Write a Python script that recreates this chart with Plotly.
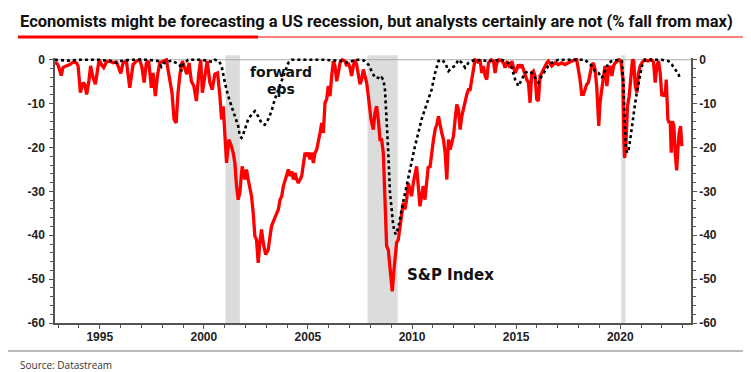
import plotly.graph_objects as go

# ---------------- data ----------------
sp_year = [1992.85, 1992.99, 1993.15, 1993.23, 1993.39, 1993.56, 1993.72, 1993.88, 1993.96, 1994.07,
           1994.2, 1994.28, 1994.37, 1994.47, 1994.56, 1994.68, 1994.79, 1994.89, 1994.97, 1995.08,
           1995.19, 1995.32, 1995.48, 1995.64, 1995.8, 1995.91, 1996.01, 1996.12, 1996.28, 1996.44,
           1996.52, 1996.6, 1996.76, 1996.92, 1997.03, 1997.13, 1997.24, 1997.35, 1997.48, 1997.56,
           1997.67, 1997.77, 1997.88, 1998.04, 1998.2, 1998.36, 1998.47, 1998.57, 1998.67, 1998.76,
           1998.86, 1998.97, 1999.08, 1999.18, 1999.29, 1999.4, 1999.52, 1999.64, 1999.76, 1999.85,
           1999.93, 2000.05, 2000.16,
           2000.29, 2000.40, 2000.53, 2000.66, 2000.77, 2000.85, 2000.93, 2001.01, 2001.09, 2001.20,
           2001.30, 2001.41, 2001.49, 2001.57, 2001.65, 2001.73, 2001.84, 2001.97, 2002.05, 2002.13,
           2002.21, 2002.29, 2002.37, 2002.45, 2002.53, 2002.61, 2002.69, 2002.77, 2002.85, 2002.97,
           2003.09, 2003.17, 2003.25, 2003.38, 2003.50, 2003.58, 2003.66, 2003.74, 2003.82, 2003.90,
           2003.98, 2004.06, 2004.14, 2004.22, 2004.30, 2004.38, 2004.46, 2004.54, 2004.70, 2004.78,
           2004.86, 2004.94, 2005.02, 2005.10, 2005.18, 2005.26, 2005.34, 2005.42, 2005.50, 2005.58,
           2005.66, 2005.74, 2005.82, 2005.90, 2005.98, 2006.06, 2006.14, 2006.22, 2006.30, 2006.38,
           2006.46, 2006.54, 2006.65, 2006.78, 2006.86, 2006.94, 2007.02, 2007.10, 2007.18, 2007.26,
           2007.34, 2007.42, 2007.50, 2007.58, 2007.66, 2007.74, 2007.82,
           2007.90, 2008.03, 2008.14, 2008.22, 2008.30, 2008.38, 2008.46, 2008.54, 2008.62, 2008.70,
           2008.78, 2008.86, 2008.94, 2009.05, 2009.15, 2009.26, 2009.34, 2009.42, 2009.50, 2009.58,
           2009.66, 2009.74, 2009.82, 2009.90, 2009.98, 2010.06, 2010.14, 2010.22, 2010.30, 2010.38,
           2010.46, 2010.54, 2010.62, 2010.70, 2010.78, 2010.86, 2010.94, 2011.03, 2011.11, 2011.19,
           2011.27, 2011.35, 2011.43, 2011.51, 2011.59, 2011.67, 2011.75, 2011.83, 2011.91, 2011.99,
           2012.07, 2012.15, 2012.23, 2012.31, 2012.39, 2012.47, 2012.55, 2012.63, 2012.71, 2012.79,
           2012.87, 2012.95, 2013.03, 2013.16, 2013.27, 2013.35, 2013.43, 2013.51, 2013.59, 2013.67,
           2013.80, 2013.91, 2013.99, 2014.07, 2014.18, 2014.31, 2014.39, 2014.47, 2014.55, 2014.63,
           2014.71, 2014.79, 2014.87, 2014.95, 2015.03, 2015.11, 2015.19, 2015.27, 2015.35, 2015.43,
           2015.51, 2015.59,
           2015.67, 2015.75, 2015.83, 2015.91, 2015.99, 2016.07, 2016.15, 2016.23, 2016.31, 2016.39,
           2016.47, 2016.55, 2016.71, 2016.87, 2017.03, 2017.19, 2017.35, 2017.51, 2017.67, 2017.83,
           2017.91, 2017.99, 2018.07, 2018.15, 2018.23, 2018.31, 2018.39, 2018.47, 2018.55, 2018.63,
           2018.71, 2018.79, 2018.87, 2018.92, 2018.97, 2019.03, 2019.11, 2019.19, 2019.27, 2019.36,
           2019.44, 2019.52, 2019.60, 2019.68, 2019.76, 2019.84, 2019.95, 2020.04, 2020.13, 2020.17,
           2020.21, 2020.27, 2020.35, 2020.43, 2020.51, 2020.59, 2020.65, 2020.72, 2020.80, 2020.88,
           2020.96, 2021.04, 2021.17, 2021.33, 2021.49, 2021.60, 2021.68, 2021.76, 2021.84, 2021.92,
           2022.00, 2022.08, 2022.16, 2022.21, 2022.29, 2022.35, 2022.40, 2022.45, 2022.51, 2022.58,
           2022.64, 2022.71, 2022.77, 2022.83, 2022.90, 2022.96]
sp_fall = [-0.5, -1.1, -3.6, -1.8, -1.4, -1.1, -0.5, -0.7, -1.4, -7.5,
           -5.2, -5.6, -7.9, -5.2, -1.4, -4.1, -5.6, -3.0, 0.0, -1.1,
           -1.8, -0.5, -0.3, -0.7, -0.5, -1.8, -3.1, -0.7, -0.3, -6.4,
           -3.7, -1.1, -0.3, 0.0, -1.8, -5.2, -0.7, -0.3, -6.4, -3.0,
           -8.3, -3.7, -0.7, -0.3, 0.0, -4.5, -7.5, -13.6, -14.4, -7.5,
           -3.0, -0.3, -1.8, -3.3, -0.7, -4.9, -6.0, -9.4, -3.0, 0.0,
           -7.5, -3.0, -0.3,
           -5.2, -6.8, -3.3, -3.0, -8.3, -13.6, -10.6, -15.9, -23.5, -18.2,
           -19.3, -21.2, -23.5, -28.8, -31.9, -30.3, -24.3, -27.3, -25.0, -27.3,
           -29.6, -31.1, -34.9, -40.2, -41.0, -46.3, -41.7, -38.7, -41.7, -44.4,
           -43.3, -41.0, -37.9, -36.4, -34.9, -34.1, -31.9, -31.1, -28.8, -27.3,
           -25.8, -25.0, -26.5, -25.4, -27.3, -25.8, -27.3, -28.1, -26.5, -24.3,
           -21.2, -22.0, -21.2, -22.7, -21.2, -23.5, -21.2, -20.5, -18.9, -16.7,
           -14.4, -16.7, -9.8, -9.0, -6.0, -8.3, -3.7, -0.3, -1.4, -4.9,
           -3.0, -0.7, 0.0, -0.3, -1.4, -0.7, -1.8, -3.7, -1.4, 0.0,
           -1.1, -3.0, -5.6, -4.5, -2.2, -3.7, -5.2,
           -8.3, -13.6, -15.9, -12.1, -10.6, -13.6, -18.2, -18.2, -21.2, -30.3,
           -42.5, -43.3, -47.0, -52.8, -47.0, -41.7, -41.0, -37.9, -35.7, -32.6,
           -34.1, -31.9, -28.1, -29.6, -31.1, -28.1, -26.5, -24.3, -28.8, -33.4,
           -31.1, -28.8, -31.9, -27.3, -24.3, -24.6, -21.2, -18.2, -15.9, -14.8,
           -12.9, -15.1, -16.7, -18.2, -21.2, -27.3, -18.2, -20.5, -18.9, -17.4,
           -13.6, -10.2, -11.3, -15.9, -12.9, -11.3, -9.0, -7.9, -6.8, -6.8,
           -4.5, -2.2, 0.0, -0.5, 0.0, -3.0, -1.4, -3.7, -4.5, -0.7,
           0.0, -0.3, -3.0, -0.7, 0.0, -0.3, -0.7, -1.8, -0.7, -1.1,
           -1.8, -0.3, -1.8, -3.0, -2.2, -1.1, -1.8, -1.1, -2.2, -3.7,
           -4.5, -5.2,
           -9.8, -3.0, -2.6, -3.7, -9.0, -9.4, -3.7, -3.0, -2.2, -1.4,
           -0.7, -0.3, -1.4, -0.7, -1.1, -0.7, -1.1, -0.7, -0.3, 0.0,
           0.0, -2.2, -4.5, -7.9, -7.9, -6.8, -5.6, -5.2, -3.0, -1.4,
           -0.7, -2.2, -6.0, -9.8, -15.1, -9.8, -6.0, -4.1, -1.4, -6.0,
           -2.2, -1.4, -3.7, -1.4, -0.7, -0.3, 0.0, -0.5, -4.5, -17.4,
           -22.4, -19.7, -10.6, -8.3, -3.0, 0.0, -0.3, -6.0, -7.5, -3.0,
           -1.4, -0.7, 0.0, -0.3, 0.0, -0.5, -5.2, -1.4, -0.3, -3.0,
           -8.3, -7.5, -8.3, -4.5, -13.6, -14.4, -14.0, -21.2, -14.0, -15.1,
           -21.2, -25.2, -20.5, -16.7, -15.1, -19.7]

eps_year = [1992.85, 1993.47, 1994.12, 1994.92, 1995.64, 1995.8, 1996.0, 1996.52, 1997.32, 1997.8,
            1997.96, 1998.09, 1998.44, 1998.84, 1998.92, 1999.0, 1999.24, 1999.88, 2000.44, 2000.53,
            2000.72, 2000.85, 2001.01, 2001.17, 2001.33, 2001.49, 2001.65, 2001.73, 2001.81, 2001.89,
            2001.97, 2002.13, 2002.29, 2002.45, 2002.61, 2002.77, 2002.93, 2003.09, 2003.25, 2003.41,
            2003.58, 2003.74, 2003.90, 2004.06, 2004.22, 2005.02, 2005.82, 2006.62, 2006.94, 2007.26,
            2007.58, 2007.74, 2007.90, 2008.06, 2008.22, 2008.38, 2008.46, 2008.54, 2008.62, 2008.70,
            2008.78, 2008.86, 2008.94, 2009.02, 2009.10, 2009.21, 2009.34, 2009.50, 2009.66, 2009.82,
            2009.98, 2010.14, 2010.30, 2010.46, 2010.62, 2010.78, 2010.94, 2011.11, 2011.27, 2011.43,
            2011.59, 2011.75, 2011.91, 2012.07, 2012.23, 2012.39, 2012.55, 2012.71, 2013.03, 2013.67,
            2014.31, 2014.63, 2014.79, 2014.95, 2015.11, 2015.27, 2015.43, 2015.59, 2015.75, 2015.91,
            2016.07, 2016.23, 2016.39, 2016.55, 2016.71, 2016.87, 2017.03, 2017.83, 2018.31, 2018.47,
            2018.63, 2018.79, 2018.96, 2019.12, 2019.28, 2019.44, 2019.60, 2019.92, 2020.08, 2020.16,
            2020.21, 2020.27, 2020.33, 2020.40, 2020.48, 2020.56, 2020.64, 2020.72, 2020.80, 2020.88,
            2020.96, 2021.04, 2021.12, 2021.20, 2022.00, 2022.32, 2022.48, 2022.64, 2022.80, 2022.88]
eps_fall = [0.0, -0.2, 0.0, 0.0, -0.3, -0.7, -0.3, 0.0, 0.0, -0.3,
            -1.6, -0.7, -0.2, -1.1, -2.6, -1.1, 0.0, 0.0, -0.5, 0.0,
            -0.3, -1.4, -5.2, -8.3, -10.6, -12.9, -15.1, -17.4, -17.8, -17.0,
            -15.9, -13.6, -12.5, -11.7, -12.9, -14.4, -14.8, -13.6, -11.7, -9.0,
            -6.8, -4.9, -2.6, -0.7, 0.0, 0.0, 0.0, -0.3, -0.7, 0.0,
            0.0, -0.3, -1.1, -2.6, -4.1, -4.1, -4.5, -4.1, -4.5, -6.8,
            -13.6, -21.2, -30.3, -34.9, -37.9, -39.8, -38.3, -34.1, -30.3, -27.3,
            -23.5, -19.7, -16.7, -13.6, -11.3, -9.0, -6.8, -3.0, -0.3, 0.0,
            -0.7, -2.6, -1.8, -1.4, 0.0, -0.7, -1.8, -0.7, 0.0, -0.3,
            0.0, -0.7, -1.8, -4.5, -6.0, -4.5, -3.0, -2.6, -3.0, -4.1,
            -5.2, -3.7, -2.6, -1.4, -0.7, -0.3, 0.0, 0.0, 0.0, -0.7,
            -1.4, -2.6, -3.0, -4.1, -2.2, -0.7, -0.3, 0.0, -0.3, -6.0,
            -13.6, -20.0, -21.2, -20.5, -18.2, -15.1, -12.9, -9.8, -7.5, -5.2,
            -3.0, -1.4, -0.7, 0.0, 0.0, -0.3, -1.1, -2.2, -3.3, -4.5]

recession_start = [2001.04, 2007.86, 2020.05]
recession_end = [2001.73, 2009.31, 2020.25]

y_ticks = [0, -10, -20, -30, -40, -50, -60]
x_ticks = [1995, 2000, 2005, 2010, 2015, 2020]

title_text = "Economists might be forecasting a US recession, but analysts certainly are not (% fall from max)"
source_text = "Source: Datastream"

# ---------------- figure ----------------
fig = go.Figure()
fig.add_trace(go.Scatter(x=sp_year, y=sp_fall, mode="lines", name="S&P Index",
                         line=dict(color="#FF0000", width=3.3), showlegend=False, hoverinfo="skip"))
fig.add_trace(go.Scatter(x=eps_year, y=eps_fall, mode="lines", name="forward eps", yaxis="y2",
                         line=dict(color="#000000", width=2.6, dash="dot"), showlegend=False,
                         hoverinfo="skip"))

tickfont = dict(family="Liberation Sans, Arial, sans-serif", size=12, color="#222222", weight="bold")
axis_col = "#555555"
yrange = [-60, 0.4]
common_y = dict(range=yrange, tickvals=y_ticks, ticktext=[str(v) for v in y_ticks],
                ticks="outside", ticklen=4, tickwidth=1, tickcolor=axis_col,
                showline=True, linecolor=axis_col, linewidth=1.5,
                showgrid=False, zeroline=False, tickfont=tickfont,
                minor=dict(dtick=2, tick0=0, ticks="outside", ticklen=3, tickcolor=axis_col, showgrid=False))

fig.update_layout(
    width=751, height=372,
    margin=dict(l=47, r=68, t=50, b=57),
    paper_bgcolor="white", plot_bgcolor="white",
    xaxis=dict(range=[1992.85, 2023.4], tickvals=x_ticks, ticks="outside", ticklen=4,
               tickcolor=axis_col, showline=True, linecolor=axis_col, linewidth=1.5,
               showgrid=False, zeroline=False, tickfont=tickfont, ticklabelstandoff=-2,
               minor=dict(dtick=1, tick0=1993, ticks="outside", ticklen=3, tickcolor=axis_col,
                          showgrid=False)),
    yaxis=dict(side="left", ticklabelstandoff=2, **common_y),
    yaxis2=dict(side="right", overlaying="y", anchor="x", **common_y),
)

shapes = []
for s, e in zip(recession_start, recession_end):
    shapes.append(dict(type="rect", xref="x", yref="paper", x0=s, x1=e, y0=0, y1=1.01,
                       fillcolor="#DCDCDC", line=dict(width=0), layer="below"))
shapes.append(dict(type="line", xref="paper", yref="y", x0=0, x1=1, y0=0, y1=0,
                   line=dict(color="#AAAAAA", width=1), layer="below"))
# title underline
shapes.append(dict(type="line", xref="paper", yref="paper", x0=0.3192, x1=1.0896, y0=1.0792, y1=1.0792,
                   line=dict(color="#FF0000", width=1)))
shapes.append(dict(type="line", xref="paper", yref="paper", x0=-0.0582, x1=0.3192, y0=1.0792, y1=1.0792,
                   line=dict(color="#FF0000", width=3)))
# source separator
shapes.append(dict(type="line", xref="paper", yref="paper", x0=-0.08, x1=1.11, y0=-0.1057, y1=-0.1057,
                   line=dict(color="#BBBBBB", width=2)))
fig.update_layout(shapes=shapes)

ann_font = dict(family="DejaVu Sans, sans-serif", size=14, color="#111111", weight="bold")
fig.add_annotation(x=2003.69, y=-2.85, xref="x", yref="y", text="forward", showarrow=False, font=ann_font)
fig.add_annotation(x=2003.69, y=-6.75, xref="x", yref="y", text="eps", showarrow=False, font=ann_font)
fig.add_annotation(x=2011.83, y=-49.0, xref="x", yref="y", text="S&P Index", showarrow=False,
                   font=dict(family="DejaVu Sans, sans-serif", size=15, color="#111111", weight="bold"))

fig.add_annotation(x=-0.0582, y=1.136, xref="paper", yref="paper", xanchor="left", yanchor="middle",
                   text=title_text, showarrow=False,
                   font=dict(family="Roboto, sans-serif", size=16.5, color="#111111", weight="bold"))
fig.add_annotation(x=-0.0582, y=-0.1585, xref="paper", yref="paper", xanchor="left", yanchor="middle",
                   text=source_text, showarrow=False,
                   font=dict(family="Open Sans, sans-serif", size=10, color="#333333"))

fig.write_html("out.html")
